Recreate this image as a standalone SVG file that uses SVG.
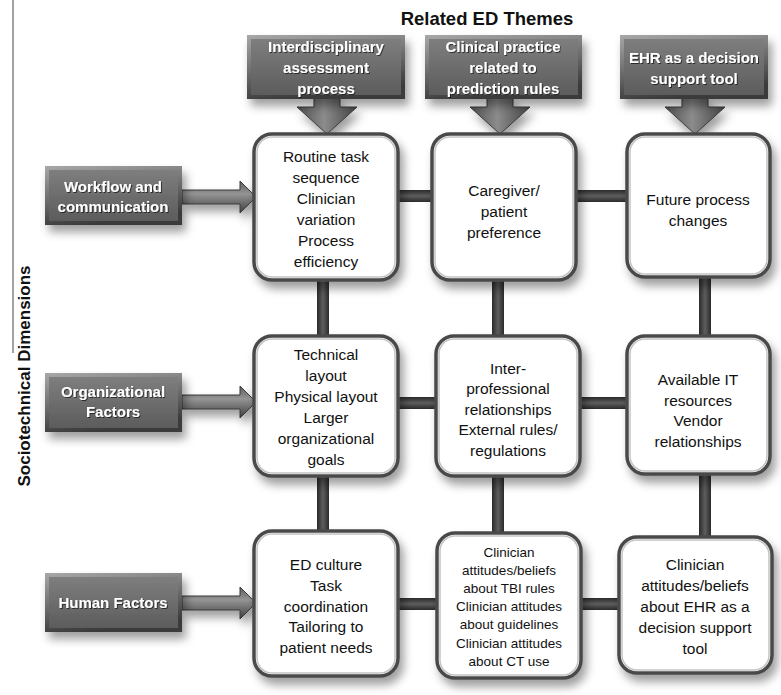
<svg xmlns="http://www.w3.org/2000/svg" width="781" height="695" viewBox="0 0 781 695">
<style>
.title{font-family:"Liberation Sans",Arial,sans-serif;font-weight:bold;font-size:18.5px;fill:#111;text-anchor:middle}
.dl{font-family:"Liberation Sans",Arial,sans-serif;font-weight:bold;font-size:15px;fill:#fff;text-anchor:middle}
.bt{font-family:"Liberation Sans",Arial,sans-serif;font-size:15.5px;fill:#111;text-anchor:middle}
.st{font-family:"Liberation Sans",Arial,sans-serif;font-size:13.5px;fill:#111;text-anchor:middle}
.edge{fill:url(#gEdge)}
.face{fill:url(#gFace)}
.wb{fill:#fff;stroke:#4a4a4a;stroke-width:3.5}
.wbi{fill:none;stroke:#c4c4c4;stroke-width:1.5}
.arr{fill:url(#gArr);stroke:#3a3a3a;stroke-width:1}
.arrh{fill:url(#gArrH);stroke:#3a3a3a;stroke-width:1}
.vbar{fill:url(#gVbar)}
.hbar{fill:url(#gHbar)}
</style>
<defs>
<filter id="sh" x="-20%" y="-20%" width="150%" height="160%">
<feDropShadow dx="4" dy="7" stdDeviation="5" flood-color="#000" flood-opacity="0.38"/>
</filter>
<filter id="tsh" x="-10%" y="-10%" width="130%" height="140%">
<feDropShadow dx="1" dy="1" stdDeviation="0.6" flood-color="#000" flood-opacity="0.6"/>
</filter>
<linearGradient id="gEdge" x1="0" y1="0" x2="0.3" y2="1">
<stop offset="0" stop-color="#a8a8a8"/><stop offset="1" stop-color="#3a3a3a"/>
</linearGradient>
<linearGradient id="gFace" x1="0" y1="0" x2="0" y2="1">
<stop offset="0" stop-color="#7e7e7e"/><stop offset="1" stop-color="#5c5c5c"/>
</linearGradient>
<linearGradient id="gArr" x1="0" y1="0" x2="1" y2="0">
<stop offset="0" stop-color="#4e4e4e"/><stop offset="0.45" stop-color="#8c8c8c"/><stop offset="1" stop-color="#444"/>
</linearGradient>
<linearGradient id="gArrH" x1="0" y1="0" x2="0" y2="1">
<stop offset="0" stop-color="#5a5a5a"/><stop offset="0.4" stop-color="#959595"/><stop offset="1" stop-color="#3e3e3e"/>
</linearGradient>
<linearGradient id="gVbar" x1="0" y1="0" x2="1" y2="0">
<stop offset="0" stop-color="#2a2a2a"/><stop offset="0.5" stop-color="#5e5e5e"/><stop offset="1" stop-color="#2a2a2a"/>
</linearGradient>
<linearGradient id="gHbar" x1="0" y1="0" x2="0" y2="1">
<stop offset="0" stop-color="#2a2a2a"/><stop offset="0.5" stop-color="#5e5e5e"/><stop offset="1" stop-color="#2a2a2a"/>
</linearGradient>
</defs>
<rect x="0" y="0" width="781" height="695" fill="#fff"/>

<text class="title" x="487" y="25">Related ED Themes</text>
<line x1="13" y1="0" x2="13" y2="353" stroke="#666" stroke-width="1.2"/>
<text class="title" transform="translate(30,376) rotate(-90)" style="font-size:17px">Sociotechnical  Dimensions</text>

<g id="connectors">
<rect class="vbar" x="317" y="200" width="12" height="400"/>
<rect class="vbar" x="492" y="200" width="12" height="400"/>
<rect class="vbar" x="699" y="200" width="12" height="400"/>
<rect class="hbar" x="330" y="190" width="380" height="12"/>
<rect class="hbar" x="330" y="397" width="380" height="12"/>
<rect class="hbar" x="330" y="598" width="380" height="12"/>
<g filter="url(#sh)">
<path class="arr" d="M314,97 H340 V107 H357 L327,134 L297,107 H314 Z"/>
<path class="arr" d="M487,97 H513 V107 H530 L500,134 L470,107 H487 Z"/>
<path class="arr" d="M682,97 H708 V107 H725 L695,134 L665,107 H682 Z"/>
<path class="arrh" d="M182,190 H240 V181 L256,197 L240,213 V204 H182 Z"/>
<path class="arrh" d="M182,395 H240 V386 L256,402 L240,418 V409 H182 Z"/>
<path class="arrh" d="M182,596 H240 V587 L256,603 L240,619 V610 H182 Z"/>
</g>
</g>

<g id="theme1" filter="url(#sh)">
<rect class="edge" x="247" y="35" width="158" height="64"/>
<rect class="face" x="251" y="39" width="150" height="56"/>
<g filter="url(#tsh)">
<text class="dl" x="326" y="52">Interdisciplinary</text>
<text class="dl" x="326" y="73">assessment</text>
<text class="dl" x="326" y="94">process</text>
</g>
</g>
<g id="theme2" filter="url(#sh)">
<rect class="edge" x="425" y="35" width="157" height="64"/>
<rect class="face" x="429" y="39" width="149" height="56"/>
<g filter="url(#tsh)">
<text class="dl" x="503" y="52">Clinical practice</text>
<text class="dl" x="503" y="73">related to</text>
<text class="dl" x="503" y="94">prediction rules</text>
</g>
</g>
<g id="theme3" filter="url(#sh)">
<rect class="edge" x="620" y="35" width="148" height="64"/>
<rect class="face" x="624" y="39" width="140" height="56"/>
<g filter="url(#tsh)">
<text class="dl" x="694" y="63">EHR as a decision</text>
<text class="dl" x="694" y="84">support tool</text>
</g>
</g>

<g id="dim1" filter="url(#sh)">
<rect class="edge" x="45" y="166" width="137" height="59"/>
<rect class="face" x="49" y="170" width="129" height="51"/>
<g filter="url(#tsh)">
<text class="dl" x="113" y="192">Workflow and</text>
<text class="dl" x="113" y="212">communication</text>
</g>
</g>
<g id="dim2" filter="url(#sh)">
<rect class="edge" x="45" y="373" width="137" height="59"/>
<rect class="face" x="49" y="377" width="129" height="51"/>
<g filter="url(#tsh)">
<text class="dl" x="113" y="397">Organizational</text>
<text class="dl" x="113" y="417">Factors</text>
</g>
</g>
<g id="dim3" filter="url(#sh)">
<rect class="edge" x="45" y="573" width="137" height="59"/>
<rect class="face" x="49" y="577" width="129" height="51"/>
<g filter="url(#tsh)">
<text class="dl" x="113" y="608">Human Factors</text>
</g>
</g>

<g id="boxA">
<rect class="wb" x="254" y="134" width="144" height="146" rx="18" filter="url(#sh)"/>
<rect class="wbi" x="257" y="137" width="138" height="140" rx="15"/>
<text class="bt" x="326" y="161.5">Routine task</text>
<text class="bt" x="326" y="182.5">sequence</text>
<text class="bt" x="326" y="203.5">Clinician</text>
<text class="bt" x="326" y="224.5">variation</text>
<text class="bt" x="326" y="245.5">Process</text>
<text class="bt" x="326" y="266.5">efficiency</text>
</g>
<g id="boxB">
<rect class="wb" x="432" y="134" width="144" height="146" rx="18" filter="url(#sh)"/>
<rect class="wbi" x="435" y="137" width="138" height="140" rx="15"/>
<text class="bt" x="504" y="195.5">Caregiver/</text>
<text class="bt" x="504" y="216.5">patient</text>
<text class="bt" x="504" y="237.5">preference</text>
</g>
<g id="boxC">
<rect class="wb" x="627" y="134" width="143" height="143" rx="18" filter="url(#sh)"/>
<rect class="wbi" x="630" y="137" width="137" height="137" rx="15"/>
<text class="bt" x="698" y="204.5">Future process</text>
<text class="bt" x="698" y="225.5">changes</text>
</g>

<g id="boxD">
<rect class="wb" x="254" y="336" width="144" height="140" rx="18" filter="url(#sh)"/>
<rect class="wbi" x="257" y="339" width="138" height="134" rx="15"/>
<text class="bt" x="326" y="359.5">Technical</text>
<text class="bt" x="326" y="380.5">layout</text>
<text class="bt" x="326" y="401.5">Physical layout</text>
<text class="bt" x="326" y="422.5">Larger</text>
<text class="bt" x="326" y="443.5">organizational</text>
<text class="bt" x="326" y="464.5">goals</text>
</g>
<g id="boxE">
<rect class="wb" x="436" y="336" width="144" height="140" rx="18" filter="url(#sh)"/>
<rect class="wbi" x="439" y="339" width="138" height="134" rx="15"/>
<text class="bt" x="508" y="373.5">Inter-</text>
<text class="bt" x="508" y="394">professional</text>
<text class="bt" x="508" y="414.5">relationships</text>
<text class="bt" x="508" y="435">External rules/</text>
<text class="bt" x="508" y="455.5">regulations</text>
</g>
<g id="boxF">
<rect class="wb" x="627" y="336" width="143" height="138" rx="18" filter="url(#sh)"/>
<rect class="wbi" x="630" y="339" width="137" height="132" rx="15"/>
<text class="bt" x="698" y="384.5">Available IT</text>
<text class="bt" x="698" y="405.5">resources</text>
<text class="bt" x="698" y="426">Vendor</text>
<text class="bt" x="698" y="446.5">relationships</text>
</g>

<g id="boxG">
<rect class="wb" x="254" y="531" width="144" height="145" rx="18" filter="url(#sh)"/>
<rect class="wbi" x="257" y="534" width="138" height="139" rx="15"/>
<text class="bt" x="326" y="569.5">ED culture</text>
<text class="bt" x="326" y="590.5">Task</text>
<text class="bt" x="326" y="611.5">coordination</text>
<text class="bt" x="326" y="631.5">Tailoring to</text>
<text class="bt" x="326" y="652.5">patient needs</text>
</g>
<g id="boxH">
<rect class="wb" x="437" y="533" width="144" height="145" rx="18" filter="url(#sh)"/>
<rect class="wbi" x="440" y="536" width="138" height="139" rx="15"/>
<text class="st" x="509" y="557">Clinician</text>
<text class="st" x="509" y="575">attitudes/beliefs</text>
<text class="st" x="509" y="593">about TBI rules</text>
<text class="st" x="509" y="611">Clinician attitudes</text>
<text class="st" x="509" y="629">about guidelines</text>
<text class="st" x="509" y="647.5">Clinician attitudes</text>
<text class="st" x="509" y="665.5">about CT use</text>
</g>
<g id="boxI">
<rect class="wb" x="619" y="537" width="153" height="136" rx="18" filter="url(#sh)"/>
<rect class="wbi" x="622" y="540" width="147" height="130" rx="15"/>
<text class="bt" x="695" y="569.5">Clinician</text>
<text class="bt" x="695" y="590.5">attitudes/beliefs</text>
<text class="bt" x="695" y="611.5">about EHR as a</text>
<text class="bt" x="695" y="632.5">decision support</text>
<text class="bt" x="695" y="653.5">tool</text>
</g>
</svg>
